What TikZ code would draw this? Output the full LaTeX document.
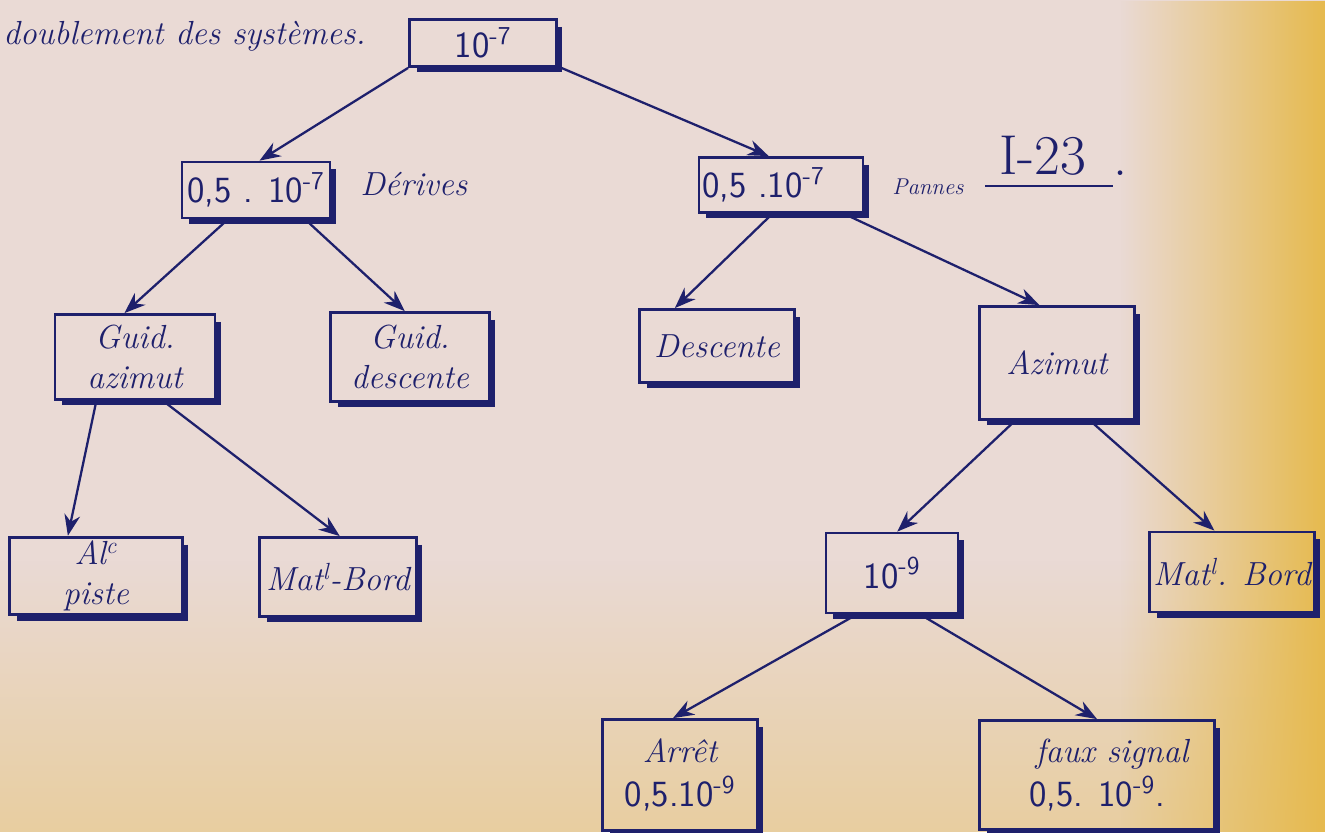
\documentclass[tikz,border=0pt]{standalone}
\usepackage{fontspec}
\usetikzlibrary{arrows.meta,fadings}
\definecolor{ink}{RGB}{30,32,108}
\definecolor{bgpink}{RGB}{234,218,213}
\definecolor{bgyellow}{RGB}{230,186,78}
\definecolor{bgbot}{RGB}{232,206,160}
\tikzfading[name=fadeR, left color=transparent!100, right color=transparent!0]
\tikzfading[name=fadeB, top color=transparent!100, bottom color=transparent!0]
\newcommand\hw{\fontsize{19}{23}\selectfont\itshape}
\newcommand\nm{\fontsize{21}{25}\selectfont\sffamily\upshape}
\begin{document}
\begin{tikzpicture}[x=0.02cm,y=-0.02cm,
  box/.style={draw=ink,line width=1.6pt,inner sep=2pt,font=\hw,text=ink,align=center},
  lbl/.style={font=\hw,text=ink,inner sep=0pt},
  arr/.style={draw=ink,line width=1.3pt,-{Stealth[length=12pt,width=9pt]}},
  shad/.style={draw=ink,line width=3pt}]
\useasboundingbox (0,0) rectangle (1325,832);
\clip (0,0) rectangle (1325,832);
\fill[bgpink] (0,0) rectangle (1325,832);
\fill[bgbot,path fading=fadeB] (0,560) rectangle (1325,832);
\fill[bgyellow,path fading=fadeR] (1120,0) rectangle (1325,832);

% boxes
\node[box,minimum width=2.94cm,minimum height=0.94cm] (top) at (483,43) {\nm 10\textsuperscript{-7}};
\node[box,minimum width=2.96cm,minimum height=1.12cm] (l1) at (256,190) {\nm 0,5 . 10\textsuperscript{-7}};
\node[box,minimum width=3.06cm,minimum height=1.10cm] (r1) at (781,185) {\nm 0,5 .10\textsuperscript{-7}\hspace{0.7cm}};
\node[box,minimum width=3.20cm,minimum height=1.70cm] (ga) at (135,357) {Guid.\\azimut};
\node[box,minimum width=3.18cm,minimum height=1.78cm] (gd) at (410,357) {Guid.\\descente};
\node[box,minimum width=3.10cm,minimum height=1.46cm] (de) at (717,346) {Descente};
\node[box,minimum width=3.10cm,minimum height=2.26cm] (az) at (1057,363) {Azimut};
\node[box,minimum width=3.46cm,minimum height=1.54cm] (al) at (96,576) {Al\textsuperscript{c}\hspace{0.5cm}\\piste\hspace{0.5cm}};
\node[box,minimum width=3.14cm,minimum height=1.58cm] (mb) at (338,577) {Mat\textsuperscript{l}-Bord};
\node[box,minimum width=2.64cm,minimum height=1.60cm] (n9) at (892,573) {\nm 10\textsuperscript{-9}};
\node[box,minimum width=3.30cm,minimum height=1.60cm] (mr) at (1232,572) {Mat\textsuperscript{l}. Bord};
\node[box,minimum width=3.10cm,minimum height=2.22cm] (ar) at (680,775) {Arrêt\\[2pt]{\nm 0,5.10\textsuperscript{-9}}\hspace{0.4cm}};
\node[box,minimum width=4.70cm,minimum height=2.18cm] (fs) at (1097,775) {\hspace{0.6cm}faux signal\\[2pt]{\nm 0,5. 10\textsuperscript{-9}.}\hspace{1.4cm}};

% shadows
\foreach \n in {top,l1,r1,ga,gd,de,az,al,mb,n9,mr,ar,fs}{
  \draw[shad] ([xshift=0.9pt,yshift=-5pt]\n.north east) -- ([xshift=0.9pt,yshift=-0.9pt]\n.south east) -- ([xshift=5pt,yshift=-0.9pt]\n.south west);
}

% arrows
\draw[arr] (top.south west) -- ([xshift=2pt]l1.north);
\draw[arr] ([xshift=2pt]top.south east) -- ([xshift=-7pt]r1.north);
\draw[arr] ([xshift=-16pt]l1.south) -- ([xshift=-6pt]ga.north);
\draw[arr] ([xshift=28pt]l1.south) -- ([xshift=-3pt]gd.north);
\draw[arr] ([xshift=-5pt]r1.south) -- ([xshift=-24pt]de.north);
\draw[arr] ([xshift=36pt]r1.south) -- ([xshift=-10pt]az.north);
\draw[arr] ([xshift=-22pt]ga.south) -- ([xshift=-16pt]al.north);
\draw[arr] ([xshift=16pt]ga.south) -- ([xshift=1pt]mb.north);
\draw[arr] ([xshift=-24pt]az.south) -- ([xshift=3pt]n9.north);
\draw[arr] ([xshift=19pt]az.south) -- ([xshift=-10pt]mr.north);
\draw[arr] ([xshift=-20pt]n9.south) -- ([xshift=-4pt]ar.north);
\draw[arr] ([xshift=16pt]n9.south) -- (fs.north);

% labels
\node[lbl,anchor=west] (dbl) at (3,36) {doublement des systèmes.};
\node[lbl,anchor=west] (der) at (360,184) {Dérives};
\node[lbl,anchor=west,font=\fontsize{13}{15}\selectfont\itshape] (pan) at (892,187) {Pannes};
\node[text=ink,font=\fontsize{32}{36}\selectfont,inner sep=0pt,anchor=south] (i23) at (1043,176) {I-23};
\node[text=ink,font=\fontsize{32}{36}\selectfont,inner sep=0pt,anchor=south] (dot) at (1121,176) {.};
\draw[ink,line width=1pt] (985,186) -- (1113,186);
\end{tikzpicture}
\end{document}
